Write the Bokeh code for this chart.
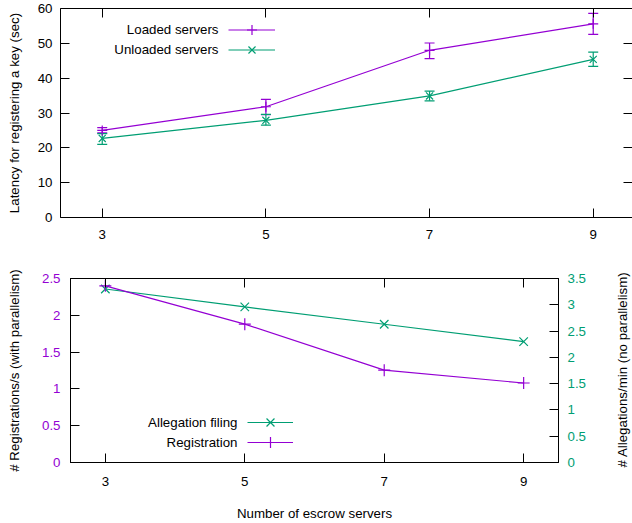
import math
from bokeh.plotting import figure
from bokeh.models import (Range1d, LinearAxis, FixedTicker, Whisker, TeeHead,
                          ColumnDataSource, Legend, LegendItem, Label)
from bokeh.layouts import column, row
from bokeh.embed import file_html
from bokeh.resources import INLINE

# ---------------- data ----------------
servers = [3, 5, 7, 9]
server_labels = ["3", "5", "7", "9"]

loaded = [25.0, 31.8, 48.0, 55.6]
loaded_lo = [24.3, 29.5, 45.6, 52.6]
loaded_hi = [25.8, 33.9, 50.1, 58.6]

unloaded = [22.7, 27.9, 34.9, 45.4]
unloaded_lo = [21.0, 26.5, 33.5, 43.4]
unloaded_hi = [24.1, 29.6, 36.3, 47.5]

latency_ticks = [0, 10, 20, 30, 40, 50, 60]
latency_labels = ["0", "10", "20", "30", "40", "50", "60"]

registration = [2.40, 1.88, 1.255, 1.08]
allegation = [3.30, 2.96, 2.63, 2.30]

reg_ticks = [0, 0.5, 1, 1.5, 2, 2.5]
reg_labels = ["0", "0.5", "1", "1.5", "2", "2.5"]
alleg_ticks = [0, 0.5, 1, 1.5, 2, 2.5, 3, 3.5]
alleg_labels = ["0", "0.5", "1", "1.5", "2", "2.5", "3", "3.5"]

# ---------------- style ----------------
FONT = "Liberation Sans"
FS = "13.3px"
PURPLE = "#9400d3"
GREEN = "#009e73"
LW = 1.2


def style_axis(ax, ticks, labels, show=True, color="black", line=True, standoff=8):
    ax.ticker = FixedTicker(ticks=ticks)
    if show:
        ax.major_label_overrides = dict(zip(ticks, labels))
    else:
        ax.major_label_overrides = {t: "" for t in ticks}
    ax.major_tick_in = 9
    ax.major_tick_out = 0
    ax.major_tick_line_color = "black"
    ax.minor_tick_line_color = None
    ax.axis_line_color = "black" if line else None
    ax.major_label_text_font = FONT
    ax.major_label_text_font_size = FS if show else "0px"
    ax.major_label_text_color = color
    ax.major_label_standoff = standoff if show else 0
    ax.axis_label_text_font = FONT
    ax.axis_label_text_font_size = FS
    ax.axis_label_text_font_style = "normal"
    ax.axis_label_text_color = "black"


def legend_text(p, x, y, text):
    p.add_layout(Label(x=x, y=y, x_units="screen", y_units="screen", text=text,
                       text_align="right", text_baseline="middle",
                       text_font=FONT, text_font_size=FS, text_color="black"))


def legend_sample(p, renderers, x, y, gh, gw):
    p.add_layout(Legend(items=[LegendItem(label=" ", renderers=renderers)],
                        location=(x, y), padding=0, margin=0, spacing=0,
                        glyph_height=gh, glyph_width=gw, label_width=0, label_standoff=0,
                        label_text_font_size=FS,
                        background_fill_alpha=0, border_line_alpha=0))


# ---------------- top plot ----------------
p1 = figure(width=632, height=250, x_range=Range1d(2.49, 9.48), y_range=Range1d(0, 60),
            output_backend="svg", toolbar_location=None,
            min_border_left=60, min_border_right=0, min_border_top=8, min_border_bottom=33,
            outline_line_color=None, background_fill_color="white", border_fill_color="white")
p1.frame_align = False
p1.xgrid.visible = False
p1.ygrid.visible = False

style_axis(p1.xaxis[0], servers, server_labels, standoff=12)
style_axis(p1.yaxis[0], latency_ticks, latency_labels, standoff=8)
p1.yaxis[0].axis_label = "Latency for registering a key (sec)"
p1.yaxis[0].axis_label_standoff = 13

top_ax = LinearAxis()
style_axis(top_ax, servers, server_labels, show=False)
p1.add_layout(top_ax, "above")
right_ax = LinearAxis()
style_axis(right_ax, latency_ticks, latency_labels, show=False, line=False)
p1.add_layout(right_ax, "right")

src_l = ColumnDataSource(dict(x=servers, y=loaded, lo=loaded_lo, hi=loaded_hi))
src_u = ColumnDataSource(dict(x=servers, y=unloaded, lo=unloaded_lo, hi=unloaded_hi))

ln_l = p1.line("x", "y", source=src_l, line_color=PURPLE, line_width=LW)
ln_u = p1.line("x", "y", source=src_u, line_color=GREEN, line_width=LW)

for src, col in ((src_l, PURPLE), (src_u, GREEN)):
    w = Whisker(base="x", lower="lo", upper="hi", source=src, line_color=col, line_width=LW,
                upper_head=TeeHead(size=10, line_color=col, line_width=LW),
                lower_head=TeeHead(size=10, line_color=col, line_width=LW))
    p1.add_layout(w)

mk_l = p1.scatter("x", "y", source=src_l, marker="cross", size=10, line_color=PURPLE, line_width=LW)
mk_u = p1.scatter("x", "y", source=src_u, marker="x", size=10, line_color=GREEN, line_width=LW)

legend_sample(p1, [ln_l, mk_l], 168, 175, 25, 47)
legend_sample(p1, [ln_u, mk_u], 168, 155, 25, 47)
legend_text(p1, 158, 188, "Loaded servers")
legend_text(p1, 158, 168, "Unloaded servers")

# ---------------- bottom plot ----------------
p2 = figure(width=612, height=273, x_range=Range1d(2.5, 9.5), y_range=Range1d(0, 2.5),
            output_backend="svg", toolbar_location=None,
            min_border_left=70, min_border_right=54, min_border_top=28, min_border_bottom=61,
            outline_line_color="black", background_fill_color="white", border_fill_color="white")
p2.frame_align = False
p2.extra_y_ranges = {"alleg": Range1d(0, 3.5)}
p2.xgrid.visible = False
p2.ygrid.visible = False

style_axis(p2.xaxis[0], servers, server_labels, standoff=14)
p2.xaxis[0].axis_label = "Number of escrow servers"
p2.xaxis[0].axis_label_standoff = 17
style_axis(p2.yaxis[0], reg_ticks, reg_labels, color=PURPLE, standoff=10)
p2.yaxis[0].axis_label = "# Registrations/s (with parallelism)"
p2.yaxis[0].axis_label_standoff = 17

top_ax2 = LinearAxis()
style_axis(top_ax2, servers, server_labels, show=False)
p2.add_layout(top_ax2, "above")

r_ax2 = LinearAxis(y_range_name="alleg")
style_axis(r_ax2, alleg_ticks, alleg_labels, color=GREEN, standoff=9)
p2.add_layout(r_ax2, "right")

src_a = ColumnDataSource(dict(x=servers, y=allegation))
src_r = ColumnDataSource(dict(x=servers, y=registration))

ln_a = p2.line("x", "y", source=src_a, y_range_name="alleg", line_color=GREEN, line_width=LW)
mk_a = p2.scatter("x", "y", source=src_a, y_range_name="alleg", marker="x", size=12,
                  line_color=GREEN, line_width=LW)
ln_r = p2.line("x", "y", source=src_r, line_color=PURPLE, line_width=LW)
mk_r = p2.scatter("x", "y", source=src_r, marker="cross", size=12, line_color=PURPLE, line_width=LW)

legend_sample(p2, [ln_a, mk_a], 177, 26, 28, 46)
legend_sample(p2, [ln_r, mk_r], 177, 6, 28, 46)
legend_text(p2, 167, 40, "Allegation filing")
legend_text(p2, 167, 20, "Registration")

# right-hand axis title (reads bottom-to-top, as in the reference)
p3 = figure(width=20, height=273, x_range=Range1d(0, 1), y_range=Range1d(0, 1),
            output_backend="svg", toolbar_location=None,
            x_axis_location=None, y_axis_location=None, min_border=0,
            outline_line_color=None, background_fill_color="white", border_fill_color="white")
p3.frame_align = False
p3.xgrid.visible = False
p3.ygrid.visible = False
p3.add_layout(Label(x=10, y=154, x_units="screen", y_units="screen",
                    text="# Allegations/min (no parallelism)", angle=math.pi / 2,
                    text_align="center", text_baseline="middle",
                    text_font=FONT, text_font_size=FS, text_color="black"))

layout = column(p1, row(p2, p3, spacing=0), spacing=0)
open("out.html", "w").write(file_html(layout, INLINE))
